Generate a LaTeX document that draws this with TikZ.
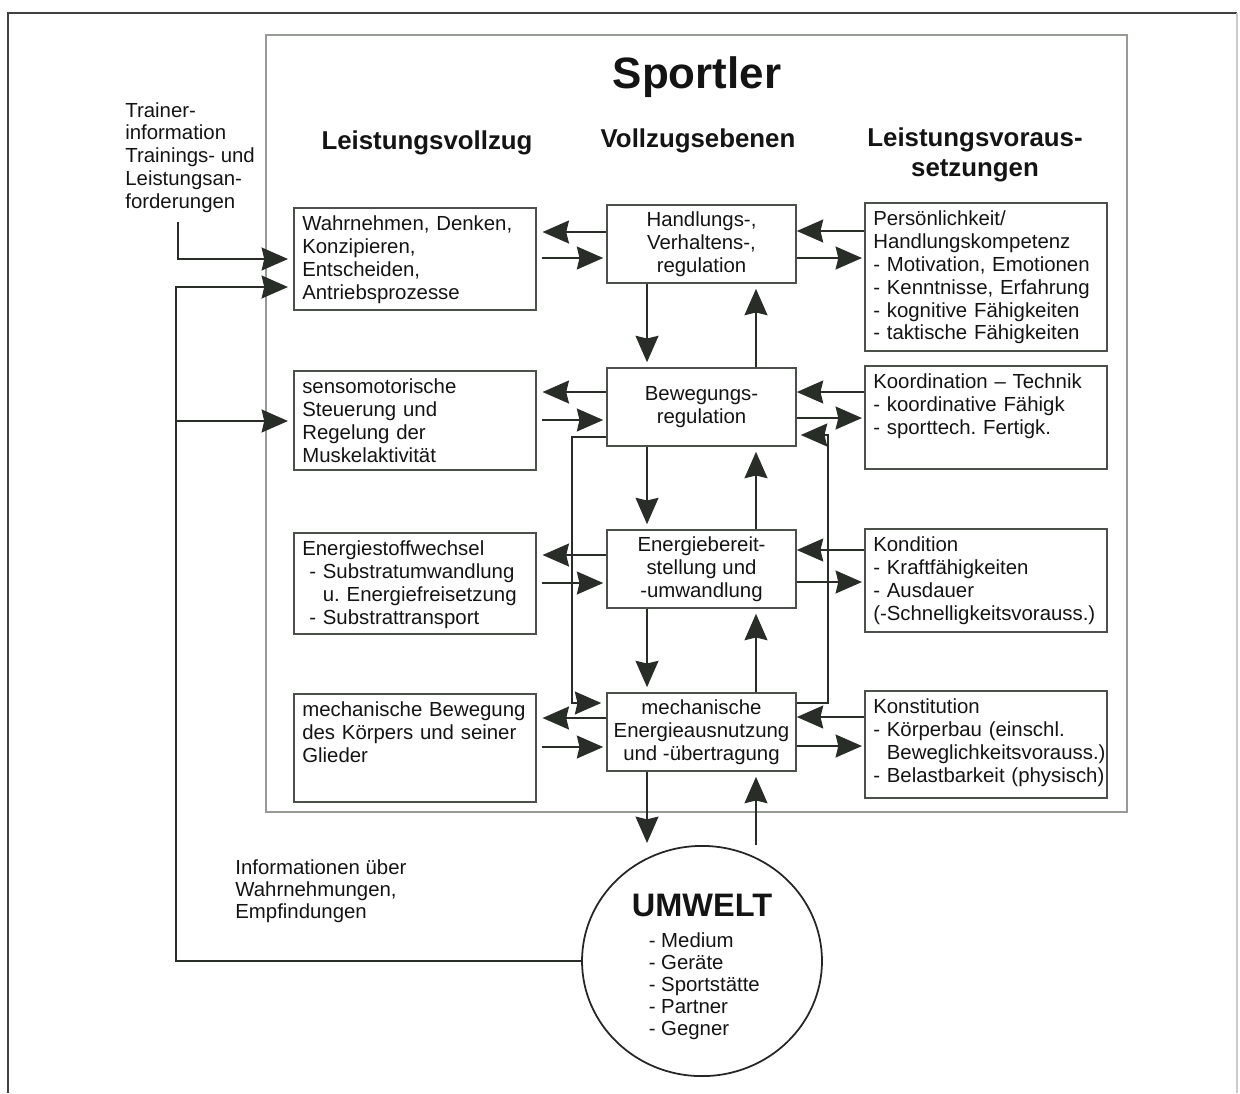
\documentclass[tikz,border=0pt]{standalone}
\usepackage{fontspec}
\setmainfont{Liberation Sans}
\usetikzlibrary{arrows.meta,calc,shapes.geometric}
\definecolor{TxtClr}{RGB}{20,20,20}
\definecolor{ArrClr}{RGB}{40,45,40}
\definecolor{BoxClr}{RGB}{75,80,75}
\definecolor{FrameClr}{RGB}{150,155,150}
\newcommand\dsh{\hphantom{- }}
\frenchspacing

\begin{document}
\begin{tikzpicture}[x=0.02cm,y=-0.02cm,
  every node/.style={text=TxtClr,font=\fontsize{11.6}{13}\selectfont},
  box/.style={draw=BoxClr,line width=.9pt,anchor=north west,align=left,
    text width=4.5cm,inner xsep=.17cm,inner ysep=.1cm,text height=.36cm},
  mbox/.style={draw=BoxClr,line width=.9pt,align=center,
    minimum width=3.78cm,minimum height=1.56cm,inner sep=1pt},
  head/.style={font=\fontsize{14.7}{17}\selectfont\bfseries,align=center},
  arr/.style={draw=ArrClr,line width=1.3pt,
    -{Stealth[length=15pt,width=13pt,inset=1.5pt]}}]
\useasboundingbox (0,0) rectangle (1240,1093);

\draw[line width=1.1pt,draw=black!75] (8,1093) -- (8,13) -- (1237,13);
\draw[line width=.6pt,draw=black!20] (1237,13) -- (1237,1093);
\draw[line width=.7pt,draw=FrameClr] (266,35) rectangle (1127,812);

\node[font=\fontsize{25}{30}\selectfont\bfseries] (title) at (697,77) {Sportler};
\node[head] (hl) at (427,143) {Leistungsvollzug};
\node[head] (hm) at (698,141) {Vollzugsebenen};
\node[head] (hr) at (975,155) {Leistungsvoraus-\\setzungen};

\node[box,text depth=1.48cm] (l1) at (293,207)
  {Wahrnehmen, Denken,\\Konzipieren,\\Entscheiden,\\Antriebsprozesse};
\node[box,text depth=1.42cm] (l2) at (293,370)
  {sensomotorische\\Steuerung und\\Regelung der\\Muskelaktivität};
\node[box,text depth=1.46cm] (l3) at (293,532)
  {Energiestoffwechsel\\\hspace*{4pt}- Substratumwandlung\\\hspace*{4pt}\dsh u. Energiefreisetzung\\\hspace*{4pt}- Substrattransport};
\node[box,text depth=1.60cm] (l4) at (293,693)
  {mechanische Bewegung\\des Körpers und seiner\\Glieder};

\node[mbox] (m1) at (701.5,244) {Handlungs-,\\Verhaltens-,\\regulation};
\node[mbox] (m2) at (701.5,407) {Bewegungs-\\regulation};
\node[mbox] (m3) at (701.5,569) {Energiebereit-\\stellung und\\-umwandlung};
\node[mbox] (m4) at (701.5,732) {mechanische\\Energieausnutzung\\und -übertragung};

\node[box,text depth=2.40cm] (r1) at (864,202)
  {Persönlichkeit/\\Handlungskompetenz\\- Motivation, Emotionen\\- Kenntnisse, Erfahrung\\- kognitive Fähigkeiten\\- taktische Fähigkeiten};
\node[box,text depth=1.50cm] (r2) at (864,365)
  {Koordination – Technik\\- koordinative Fähigk\\- sporttech. Fertigk.};
\node[box,text depth=1.50cm] (r3) at (864,528)
  {Kondition\\- Kraftfähigkeiten\\- Ausdauer\\\mbox{(-Schnelligkeitsvorauss.)}};
\node[box,text depth=1.58cm] (r4) at (864,690)
  {Konstitution\\- Körperbau (einschl.\\\mbox{\dsh Beweglichkeitsvorauss.)}\\\mbox{- Belastbarkeit (physisch)}};

\node[ellipse,draw=black!85,line width=1pt,minimum width=4.8cm,minimum height=4.54cm,
  inner sep=0pt,font=\fontsize{11.6}{12.5}\selectfont] (umwelt) at (702,961)
  {\begin{tabular}{@{\hspace{9.6pt}}l@{}}
   \multicolumn{1}{@{}c@{}}{\rule{0pt}{21pt}\fontsize{18.5}{22}\selectfont\bfseries UMWELT}\\[5.4pt]
   - Medium\\- Geräte\\- Sportstätte\\- Partner\\- Gegner
   \end{tabular}};

\node[anchor=north west,inner sep=0pt,align=left] (trainer) at (125,102)
  {Trainer-\\information\\Trainings- und\\Leistungsan-\\forderungen};
\node[anchor=north west,inner sep=0pt,align=left,font=\fontsize{11.6}{12.5}\selectfont] (info) at (235,859)
  {Informationen über\\Wahrnehmungen,\\Empfindungen};

\draw[arr,shorten >=.12cm] (m1.west |- 0,232) -- (l1.east |- 0,232);
\draw[arr,shorten <=.1cm,shorten >=.06cm] (l1.east |- 0,258) -- (m1.west |- 0,258);
\draw[arr,shorten >=.12cm] (m2.west |- 0,392) -- (l2.east |- 0,392);
\draw[arr,shorten <=.1cm,shorten >=.06cm] (l2.east |- 0,420) -- (m2.west |- 0,420);
\draw[arr,shorten >=.12cm] (m3.west |- 0,555) -- (l3.east |- 0,555);
\draw[arr,shorten <=.1cm,shorten >=.06cm] (l3.east |- 0,583) -- (m3.west |- 0,583);
\draw[arr,shorten >=.12cm] (m4.west |- 0,718) -- (l4.east |- 0,718);
\draw[arr,shorten <=.1cm,shorten >=.06cm] (l4.east |- 0,747) -- (m4.west |- 0,747);

\draw[arr] (r1.west |- 0,231) -- (m1.east |- 0,231);
\draw[arr,shorten >=.04cm] (m1.east |- 0,258) -- (r1.west |- 0,258);
\draw[arr] (r2.west |- 0,392) -- (m2.east |- 0,392);
\draw[arr,shorten >=.04cm] (m2.east |- 0,418) -- (r2.west |- 0,418);
\draw[arr] (r3.west |- 0,550) -- (m3.east |- 0,550);
\draw[arr,shorten >=.04cm] (m3.east |- 0,582) -- (r3.west |- 0,582);
\draw[arr] (r4.west |- 0,717) -- (m4.east |- 0,717);
\draw[arr,shorten >=.04cm] (m4.east |- 0,746) -- (r4.west |- 0,746);

\draw[arr,shorten >=.1cm] ([xshift=-1.09cm]m1.south) -- ([xshift=-1.09cm]m2.north);
\draw[arr,shorten >=.1cm] ([xshift=1.09cm]m2.north) -- ([xshift=1.09cm]m1.south);
\draw[arr,shorten >=.1cm] ([xshift=-1.09cm]m2.south) -- ([xshift=-1.09cm]m3.north);
\draw[arr,shorten >=.1cm] ([xshift=1.09cm]m3.north) -- ([xshift=1.09cm]m2.south);
\draw[arr,shorten >=.1cm] ([xshift=-1.09cm]m3.south) -- ([xshift=-1.09cm]m4.north);
\draw[arr,shorten >=.1cm] ([xshift=1.09cm]m4.north) -- ([xshift=1.09cm]m3.south);
\draw[arr,shorten >=.04cm] ([xshift=-1.09cm]m4.south) -- ([xshift=-1.09cm]m4.south |- umwelt.north);
\draw[arr,shorten >=.1cm] ([xshift=1.09cm]m4.south |- umwelt.north) -- ([xshift=1.09cm]m4.south);

\draw[arr,shorten >=.1cm] (m2.west |- 0,437) -| (572,570) |- (m4.west |- 0,703);
\draw[arr,shorten >=.08cm] (m4.east |- 0,703) -| (828,570) |- (m2.east |- 0,435);

\coordinate (tin) at (178,222);
\coordinate (fb) at (176,421);
\draw[arr,shorten >=.1cm] (tin) |- (l1.west |- 0,259);
\draw[arr,shorten >=.1cm] (umwelt.west) -| (fb) |- (l1.west |- 0,287);
\draw[arr,shorten >=.1cm] (fb) -- (l2.west |- fb);

\end{tikzpicture}
\end{document}
